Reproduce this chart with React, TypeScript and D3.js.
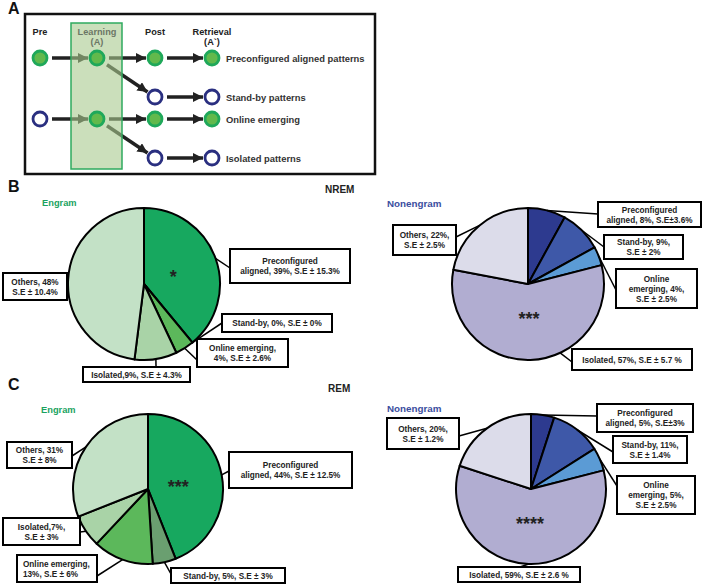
import React from "react";
import * as d3 from "d3";

// ---------------- DATA ----------------
const categories = ["Preconfigured aligned", "Stand-by", "Online emerging", "Isolated", "Others"];
const nremEngram = [39, 0, 4, 9, 48];
const nremNonengram = [8, 9, 4, 57, 22];
const remEngram = [44, 5, 13, 7, 31];
const remNonengram = [5, 11, 5, 59, 20];

const nremEngramLabels = [
  ["Preconfigured", "aligned, 39%, S.E ± 15.3%"],
  ["Stand-by, 0%, S.E ± 0%"],
  ["Online emerging,", "4%, S.E ± 2.6%"],
  ["Isolated,9%, S.E ± 4.3%"],
  ["Others, 48%", "S.E ± 10.4%"],
];
const nremNonengramLabels = [
  ["Preconfigured", "aligned, 8%, S.E±3.6%"],
  ["Stand-by, 9%,", "S.E ± 2%"],
  ["Online", "emerging, 4%,", "S.E ± 2.5%"],
  ["Isolated, 57%, S.E ± 5.7 %"],
  ["Others, 22%,", "S.E ± 2.5%"],
];
const remEngramLabels = [
  ["Preconfigured", "aligned, 44%, S.E ± 12.5%"],
  ["Stand-by, 5%, S.E ± 3%"],
  ["Online emerging,", "13%, S.E ± 6%"],
  ["Isolated,7%,", "S.E ± 3%"],
  ["Others, 31%", "S.E ± 8%"],
];
const remNonengramLabels = [
  ["Preconfigured", "aligned, 5%, S.E±3%"],
  ["Stand-by, 11%,", "S.E ± 1.4%"],
  ["Online", "emerging, 5%,", "S.E ± 2.5%"],
  ["Isolated, 59%, S.E ± 2.6 %"],
  ["Others, 20%,", "S.E ± 1.2%"],
];

const engramColors = ["#17a85f", "#5cb85b", "#5cb85b", "#a9d3a7", "#c3e1c6"];
const engramRemColors = ["#17a85f", "#6a9f70", "#5cb85b", "#a9d3a7", "#c3e1c6"];
const nonengramColors = ["#2d3a8f", "#3e58a8", "#5b9bd5", "#b1add1", "#dcdcea"];

const rowLabels = ["Preconfigured aligned patterns", "Stand-by patterns", "Online emerging", "Isolated patterns"];
const stageLabels = ["Pre", "Learning", "Post", "Retrieval"];

// ---------------- LAYOUT ----------------
type Box = { x: number; y: number; w: number; h: number; ax: number; ay: number; angle?: number; align?: "left" };

const FONT = "'Liberation Sans', Arial, sans-serif";

const pies = [
  {
    cx: 144, cy: 284, r: 76, values: nremEngram, labels: nremEngramLabels, colors: engramColors,
    star: "*", starIdx: 0,
    boxes: [
      { x: 230, y: 249, w: 120, h: 34, ax: 230, ay: 268 },
      { x: 222, y: 314, w: 110, h: 18, ax: 222, ay: 323 },
      { x: 197, y: 339, w: 91, h: 28, ax: 197, ay: 360 },
      { x: 83, y: 367, w: 107, h: 15, ax: 156, ay: 367 },
      { x: 3, y: 273, w: 64, h: 27, ax: 67, ay: 281 },
    ] as Box[],
  },
  {
    cx: 528, cy: 284, r: 76, values: nremNonengram, labels: nremNonengramLabels, colors: nonengramColors,
    star: "***", starIdx: 3,
    boxes: [
      { x: 598, y: 202, w: 103, h: 25, ax: 598, ay: 214 },
      { x: 604, y: 235, w: 79, h: 24, ax: 604, ay: 247 },
      { x: 616, y: 269, w: 81, h: 39, ax: 616, ay: 290 },
      { x: 572, y: 349, w: 120, h: 21, ax: 572, ay: 362, angle: 155 },
      { x: 393, y: 225, w: 63, h: 30, ax: 456, ay: 237 },
    ] as Box[],
  },
  {
    cx: 148, cy: 489, r: 75, values: remEngram, labels: remEngramLabels, colors: engramRemColors,
    star: "***", starIdx: 0,
    boxes: [
      { x: 229, y: 452, w: 123, h: 36, ax: 229, ay: 471 },
      { x: 171, y: 568, w: 114, h: 15, ax: 171, ay: 574 },
      { x: 17, y: 555, w: 80, h: 27, ax: 97, ay: 576, align: "left" },
      { x: 3, y: 518, w: 77, h: 27, ax: 80, ay: 532 },
      { x: 7, y: 442, w: 65, h: 26, ax: 72, ay: 456 },
    ] as Box[],
  },
  {
    cx: 531, cy: 489, r: 75, values: remNonengram, labels: remNonengramLabels, colors: nonengramColors,
    star: "****", starIdx: 3,
    boxes: [
      { x: 597, y: 404, w: 96, h: 28, ax: 597, ay: 416 },
      { x: 613, y: 436, w: 74, h: 27, ax: 613, ay: 452 },
      { x: 617, y: 476, w: 78, h: 38, ax: 617, ay: 486 },
      { x: 458, y: 567, w: 122, h: 15, ax: 520, ay: 567 },
      { x: 387, y: 418, w: 72, h: 31, ax: 459, ay: 436 },
    ] as Box[],
  },
];

function PieChart({ p }: { p: (typeof pies)[number] }) {
  const pie = d3.pie<number>().sort(null).value((d) => d)(p.values);
  const arc = d3.arc<d3.PieArcDatum<number>>().innerRadius(0).outerRadius(p.r);
  const starArc = d3.arc<d3.PieArcDatum<number>>().innerRadius(0).outerRadius(p.r * 0.82);
  const lineH = 10;
  return (
    <g>
      {pie.map((d, i) => (
        <path key={i} d={arc(d) || ""} transform={`translate(${p.cx},${p.cy})`}
          fill={p.colors[i]} stroke="#000" strokeWidth={2} strokeLinejoin="round" />
      ))}
      {(() => {
        const c = starArc.centroid(pie[p.starIdx]);
        return (
          <text x={p.cx + c[0]} y={p.cy + c[1] + 10} textAnchor="middle" fontFamily={FONT}
            fontWeight="bold" fontSize={18} fill="#222">{p.star}</text>
        );
      })()}
      {p.boxes.map((b, i) => {
        const mid = b.angle !== undefined ? (b.angle * Math.PI) / 180 : (pie[i].startAngle + pie[i].endAngle) / 2;
        const sx = p.cx + p.r * Math.sin(mid);
        const sy = p.cy - p.r * Math.cos(mid);
        const lines = p.labels[i];
        const y0 = b.y + b.h / 2 - ((lines.length - 1) * lineH) / 2 + 3;
        return (
          <g key={"b" + i}>
            <line x1={sx} y1={sy} x2={b.ax} y2={b.ay} stroke="#000" strokeWidth={1.5} />
            <rect x={b.x} y={b.y} width={b.w} height={b.h} fill="#fff" stroke="#000" strokeWidth={2} />
            {lines.map((t, j) => (
              <text key={j} x={b.align === "left" ? b.x + 6 : b.x + b.w / 2} y={y0 + j * lineH}
                textAnchor={b.align === "left" ? "start" : "middle"} fontFamily={FONT} fontWeight="bold"
                fontSize={8.2} fill="#222">{t}</text>
            ))}
          </g>
        );
      })}
    </g>
  );
}

function PanelA() {
  const colX = [40, 97, 155, 212];
  const rowY = [58, 97, 119, 158];
  const nodeR = 7;
  const green = { fill: "#62b94c", stroke: "#1fa85a" };
  const open = { fill: "#fff", stroke: "#2a2f80" };
  const arrows: [number, number, number, number][] = [
    [colX[0], rowY[0], colX[1], rowY[0]],
    [colX[1], rowY[0], colX[2], rowY[0]],
    [colX[1], rowY[0], colX[2], rowY[1]],
    [colX[2], rowY[0], colX[3], rowY[0]],
    [colX[2], rowY[1], colX[3], rowY[1]],
    [colX[0], rowY[2], colX[1], rowY[2]],
    [colX[1], rowY[2], colX[2], rowY[2]],
    [colX[1], rowY[2], colX[2], rowY[3]],
    [colX[2], rowY[2], colX[3], rowY[2]],
    [colX[2], rowY[3], colX[3], rowY[3]],
  ];
  const nodes: [number, number, boolean][] = [
    [colX[0], rowY[0], true], [colX[1], rowY[0], true], [colX[2], rowY[0], true], [colX[3], rowY[0], true],
    [colX[2], rowY[1], false], [colX[3], rowY[1], false],
    [colX[0], rowY[2], false], [colX[1], rowY[2], true], [colX[2], rowY[2], true], [colX[3], rowY[2], true],
    [colX[2], rowY[3], false], [colX[3], rowY[3], false],
  ];
  return (
    <g>
      <defs>
        <marker id="ah" viewBox="0 0 10 10" refX={10} refY={5} markerWidth={10} markerHeight={10}
          markerUnits="userSpaceOnUse" orient="auto">
          <path d="M0,0 L10,5 L0,10 z" fill="#222" />
        </marker>
      </defs>
      <rect x={25} y={14} width={350} height={160} fill="#fff" stroke="#111" strokeWidth={2.5} />
      {arrows.map(([x1, y1, x2, y2], i) => {
        const dx = x2 - x1, dy = y2 - y1, L = Math.hypot(dx, dy);
        const ux = dx / L, uy = dy / L;
        const s = nodeR + 5, e = nodeR + 2;
        return (
          <line key={i} x1={x1 + ux * s} y1={y1 + uy * s} x2={x2 - ux * e} y2={y2 - uy * e}
            stroke="#222" strokeWidth={3.5} markerEnd="url(#ah)" />
        );
      })}
      <rect x={71} y={23} width={51} height={146} fill="#a9c98d" fillOpacity={0.6} stroke="#2faa5f" strokeWidth={1.5} />
      {nodes.map(([x, y, g], i) => (
        <circle key={i} cx={x} cy={y} r={nodeR} fill={g ? green.fill : open.fill}
          stroke={g ? green.stroke : open.stroke} strokeWidth={2.8} />
      ))}
      {stageLabels.map((t, i) => (
        <text key={t} x={colX[i]} y={35} textAnchor="middle" fontFamily={FONT} fontWeight="bold"
          fontSize={9.2} fill={i === 1 ? "#6b7766" : "#222"}>{t}</text>
      ))}
      <text x={colX[1]} y={45} textAnchor="middle" fontFamily={FONT} fontWeight="bold" fontSize={9.2} fill="#6b7766">(A)</text>
      <text x={colX[3]} y={45} textAnchor="middle" fontFamily={FONT} fontWeight="bold" fontSize={9.2} fill="#222">(A`)</text>
      {rowLabels.map((t, i) => (
        <text key={t} x={226} y={rowY[i] + 3.5} fontFamily={FONT} fontWeight="bold" fontSize={9.4} fill="#333">{t}</text>
      ))}
    </g>
  );
}

export default function App() {
  return (
    <svg width={702} height={586} style={{ position: "absolute", left: 0, top: 0, background: "#fff" }}>
      <rect width={702} height={586} fill="#fff" />
      <text x={8} y={14} fontFamily={FONT} fontWeight="bold" fontSize={16} fill="#111">A</text>
      <text x={8} y={192} fontFamily={FONT} fontWeight="bold" fontSize={16} fill="#111">B</text>
      <text x={8} y={390} fontFamily={FONT} fontWeight="bold" fontSize={16} fill="#111">C</text>
      <PanelA />
      <text x={325} y={193} fontFamily={FONT} fontWeight="bold" fontSize={10} fill="#222">NREM</text>
      <text x={328} y={392} fontFamily={FONT} fontWeight="bold" fontSize={10} fill="#222">REM</text>
      <text x={42} y={206} fontFamily={FONT} fontWeight="bold" fontSize={9.3} fill="#1aa35f">Engram</text>
      <text x={387} y={207} fontFamily={FONT} fontWeight="bold" fontSize={9.8} fill="#3b4ea0">Nonengram</text>
      <text x={41} y={413} fontFamily={FONT} fontWeight="bold" fontSize={9.3} fill="#1aa35f">Engram</text>
      <text x={387} y={412} fontFamily={FONT} fontWeight="bold" fontSize={9.8} fill="#3b4ea0">Nonengram</text>
      {pies.map((p, i) => (
        <PieChart key={i} p={p} />
      ))}
    </svg>
  );
}
